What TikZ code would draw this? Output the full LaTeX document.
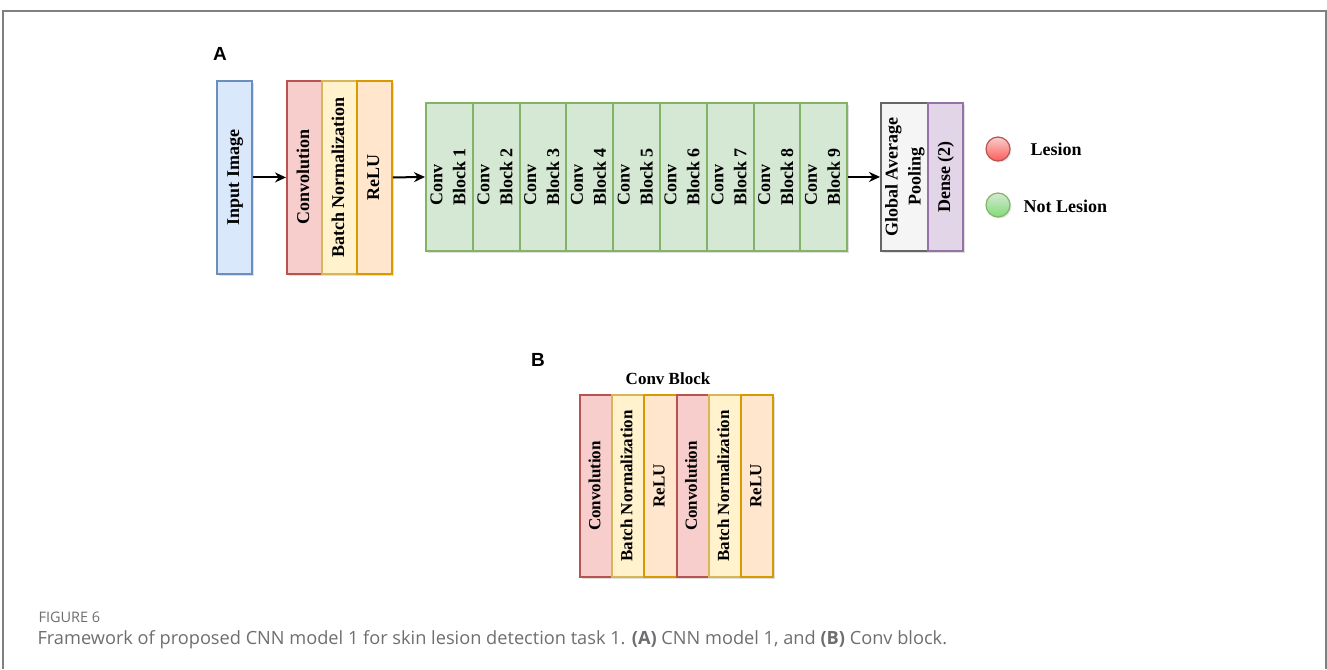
\documentclass[tikz,border=0pt]{standalone}
\usepackage{fontspec}
\usepackage{graphicx}
\setmainfont{Liberation Serif}
\newfontfamily\panelfont{Liberation Sans}
\newfontfamily\capfont{Open Sans}
\usetikzlibrary{arrows.meta,shadows}
\definecolor{blueF}{HTML}{DAE8FC}\definecolor{blueD}{HTML}{6C8EBF}
\definecolor{redF}{HTML}{F8CECC}\definecolor{redD}{HTML}{B85450}
\definecolor{yelF}{HTML}{FFF2CC}\definecolor{yelD}{HTML}{D6B656}
\definecolor{oraF}{HTML}{FFE6CC}\definecolor{oraD}{HTML}{D79B00}
\definecolor{grnF}{HTML}{D5E8D4}\definecolor{grnD}{HTML}{82B366}
\definecolor{gryF}{HTML}{F5F5F5}\definecolor{gryD}{HTML}{666666}
\definecolor{purF}{HTML}{E1D5E7}\definecolor{purD}{HTML}{9673A6}
\definecolor{capgray}{HTML}{6D6E71}
\newcommand{\vtext}[2][c]{\rotatebox{90}{\begin{tabular}{@{}#1@{}}#2\end{tabular}}}
\begin{document}
\begin{tikzpicture}[x=1pt,y=-1pt,
    layer/.style={draw,line width=1.9pt,anchor=north west,inner sep=0pt,
        minimum width=35pt,minimum height=193pt,
        font=\bfseries\fontsize{18}{23}\selectfont,
        drop shadow={shadow xshift=2pt,shadow yshift=-2pt,opacity=.25}},
    small/.style={minimum width=32.2pt,minimum height=182pt,
        font=\bfseries\fontsize{17}{21}\selectfont},
    arr/.style={line width=2pt,-{Stealth[length=11pt,width=10pt]}},
    panel/.style={font=\panelfont\bfseries\fontsize{19}{22}\selectfont},
    legend/.style={font=\bfseries\fontsize{18}{22}\selectfont,anchor=west}]
    \useasboundingbox (0,0) rectangle (1327,669);
    % frame
    \draw [gray,line width=2pt] (3,669) -- (3,11) -- (1326,11) -- (1326,669);
    % (A) CNN model 1
    \node [panel] (labA) at (220,54) {A};
    \node [layer,fill=blueF,draw=blueD] (inp) at (216,80) {\vtext{Input Image}};
    \node [layer,fill=redF,draw=redD] (cv) at (286,80) {\vtext{Convolution}};
    \node [layer,fill=yelF,draw=yelD] (bn) at (321,80) {\vtext{Batch Normalization}};
    \node [layer,fill=oraF,draw=oraD] (rl) at (356,80) {\vtext{ReLU}};
    \foreach \i in {1,...,9}
        \node [layer,fill=grnF,draw=grnD,minimum width=46.8pt,minimum height=148pt]
            (cb\i) at ({425+(\i-1)*46.8},102) {\vtext[l]{Conv\\Block \i}};
    \node [layer,fill=gryF,draw=gryD,minimum width=47pt,minimum height=148pt]
        (gap) at (880,102) {\vtext{Global Average\\Pooling}};
    \node [layer,fill=purF,draw=purD,minimum height=148pt]
        (dns) at (927,102) {\vtext{Dense (2)}};
    \draw [arr] (inp.east) -- (cv.west);
    \draw [arr] (rl.east) -- (cb1.west);
    \draw [arr] (cb9.east) -- (gap.west);
    % legend
    \node [circle,draw=redD,line width=1.2pt,top color=redF,bottom color=red!55!redF,
        minimum size=24pt,drop shadow={shadow xshift=1.5pt,shadow yshift=-1.5pt,opacity=.2}]
        (les) at (998,149) {};
    \node [circle,draw=grnD,line width=1.2pt,top color=grnF,bottom color=green!45!grnD!60!grnF,
        minimum size=24pt,drop shadow={shadow xshift=1.5pt,shadow yshift=-1.5pt,opacity=.2}]
        (nles) at (998,205) {};
    \node [legend] (lesT) at (1027,149) {Lesion};
    \node [legend] (nlesT) at (1020,206) {Not Lesion};
    % (B) Conv block
    \node [panel] (labB) at (538,360) {B};
    \node [font=\bfseries\fontsize{17}{20}\selectfont] (ttl) at (668,379) {Conv Block};
    \foreach \i/\fc/\dc/\txt in {0/redF/redD/Convolution,1/yelF/yelD/Batch Normalization,
        2/oraF/oraD/ReLU,3/redF/redD/Convolution,4/yelF/yelD/Batch Normalization,5/oraF/oraD/ReLU}
        \node [layer,small,fill=\fc,draw=\dc] (b\i) at ({579+\i*32.2},394) {\vtext{\txt}};
    % caption
    \node [anchor=west,text=capgray,font=\capfont\fontsize{14.5}{17}\selectfont]
        (fig) at (35,617) {FIGURE 6};
    \node [anchor=west,text=capgray,font=\capfont\fontsize{18.2}{21}\selectfont]
        (cap) at (34,640) {Framework of proposed CNN model 1 for skin lesion detection task 1. \textbf{(A)} CNN model 1, and \textbf{(B)} Conv block.};
\end{tikzpicture}
\end{document}
